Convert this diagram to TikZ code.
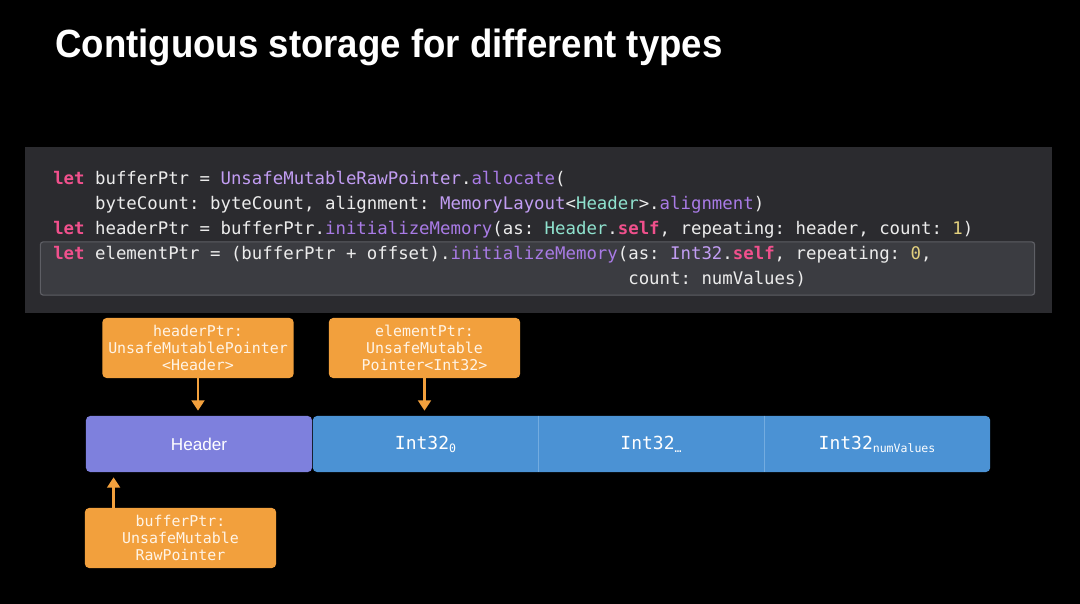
\documentclass[tikz,border=0pt]{standalone}
\usepackage{fontspec}
\setmainfont{Liberation Sans}
\setmonofont{DejaVu Sans Mono}
\usepackage{xcolor}
\usetikzlibrary{arrows.meta, calc}

\definecolor{panel}{HTML}{2B2B2F}
\definecolor{hilite}{HTML}{3B3C41}
\definecolor{hiliteline}{HTML}{5E5F65}
\definecolor{kwpink}{HTML}{F0508C}
\definecolor{typurple}{HTML}{C29DF3}
\definecolor{fnpurple}{HTML}{A97BE6}
\definecolor{hdteal}{HTML}{8FE2CE}
\definecolor{numyellow}{HTML}{E2D07E}
\definecolor{codetext}{HTML}{ECECEC}
\definecolor{ptrorange}{HTML}{F2A03D}
\definecolor{ptrtext}{HTML}{FFF4E6}
\definecolor{hdrpurple}{HTML}{7E80DD}
\definecolor{intblue}{HTML}{4B92D4}
\definecolor{divblue}{HTML}{73ACE0}

% code colouring
\newcommand{\kwd}[1]{\textcolor{kwpink}{\bfseries #1}}
\newcommand{\typ}[1]{\textcolor{typurple}{#1}}
\newcommand{\mth}[1]{\textcolor{fnpurple}{#1}}
\newcommand{\usr}[1]{\textcolor{hdteal}{#1}}
\newcommand{\lit}[1]{\textcolor{numyellow}{#1}}
\newcommand{\idx}[1]{\raisebox{-0.3ex}{\fontsize{8.2}{9}\selectfont #1}}

\begin{document}
\begin{tikzpicture}[
  x=0.025cm, y=-0.025cm,
  code/.style={anchor=base west, inner sep=0pt, text=codetext,
               font=\ttfamily\fontsize{12.35}{14}\selectfont},
  ptrbox/.style={fill=ptrorange, rounded corners=3pt, align=center, text=ptrtext,
                 font=\ttfamily\fontsize{10.6}{12}\selectfont,
                 minimum width=4.78cm, minimum height=1.5cm, inner sep=0pt},
  cell/.style={text=white, font=\ttfamily\fontsize{12.8}{14}\selectfont, inner sep=0pt},
  arr/.style={ptrorange, line width=1.8pt, -{Triangle[length=2.6mm, width=3.2mm]}}]

% background and bounding box
\fill[black] (0,0) rectangle (1080,604);
\useasboundingbox (0,0) rectangle (1080,604);

\node[anchor=base west, inner sep=0pt, text=white, xscale=0.93, transform shape,
      font=\bfseries\fontsize{28}{32}\selectfont] (title) at (55,58)
  {Contiguous storage for different types};

% code panel
\fill[panel] (25,147) rectangle (1052,313);
\node[fill=hilite, draw=hiliteline, line width=0.8pt, rounded corners=2pt,
      minimum width=24.85cm, minimum height=1.33cm, inner sep=0pt] (hl) at (537.5,268.5) {};

\node[code] (l1) at (53,184)
  {\kwd{let} bufferPtr = \typ{UnsafeMutableRawPointer}.\mth{allocate}(};
\node[code] (l2) at (53,209)
  {\phantom{let }byteCount: byteCount, alignment: \typ{MemoryLayout}<\usr{Header}>.\mth{alignment})};
\node[code] (l3) at (53,234)
  {\kwd{let} headerPtr = bufferPtr.\mth{initializeMemory}(as: \usr{Header}.\kwd{self}, repeating: header, count: \lit{1})};
\node[code] (l4) at (53,259)
  {\kwd{let} elementPtr = (bufferPtr + offset).\mth{initializeMemory}(as: \typ{Int32}.\kwd{self}, repeating: \lit{0},};
\node[code] (l5) at (53,284)
  {\phantom{let elementPtr = (bufferPtr + offset).initializeMemory(}count: numValues)};

% pointer boxes
\node[ptrbox] (hdrptr) at (198,348) {headerPtr:\\UnsafeMutablePointer\\<Header>};
\node[ptrbox] (elemptr) at (424.5,348) {elementPtr:\\UnsafeMutable\\Pointer<Int32>};
\node[ptrbox] (bufptr) at (180.5,538) {bufferPtr:\\UnsafeMutable\\RawPointer};

% memory layout
\node[fill=hdrpurple, rounded corners=3pt, minimum width=5.65cm, minimum height=1.4cm,
      inner sep=0pt, text=white, font=\fontsize{12.2}{14}\selectfont] (header) at (199,444) {Header};
\node[fill=intblue, rounded corners=3pt, minimum width=16.93cm, minimum height=1.4cm,
      inner sep=0pt] (ints) at (651.5,444) {};
\draw[divblue, line width=0.6pt] ($(ints.north west)!1/3!(ints.north east)$) -- ($(ints.south west)!1/3!(ints.south east)$);
\draw[divblue, line width=0.6pt] ($(ints.north west)!2/3!(ints.north east)$) -- ($(ints.south west)!2/3!(ints.south east)$);
\node[cell] (int0) at (425.5,444) {Int32\idx{0}};
\node[cell] (intmid) at (651,444) {Int32\idx{…}};
\node[cell] (intlast) at (877,444) {Int32\idx{numValues}};

% arrows
\coordinate (bufarr) at ($(bufptr.north west)+(29,0)$);
\draw[arr] (hdrptr.south) -- ($(hdrptr.south |- header.north)+(0,-5)$);
\draw[arr] (elemptr.south) -- ($(elemptr.south |- ints.north)+(0,-5)$);
\draw[arr] (bufarr) -- ($(bufarr |- header.south)+(0,5)$);
\end{tikzpicture}
\end{document}
